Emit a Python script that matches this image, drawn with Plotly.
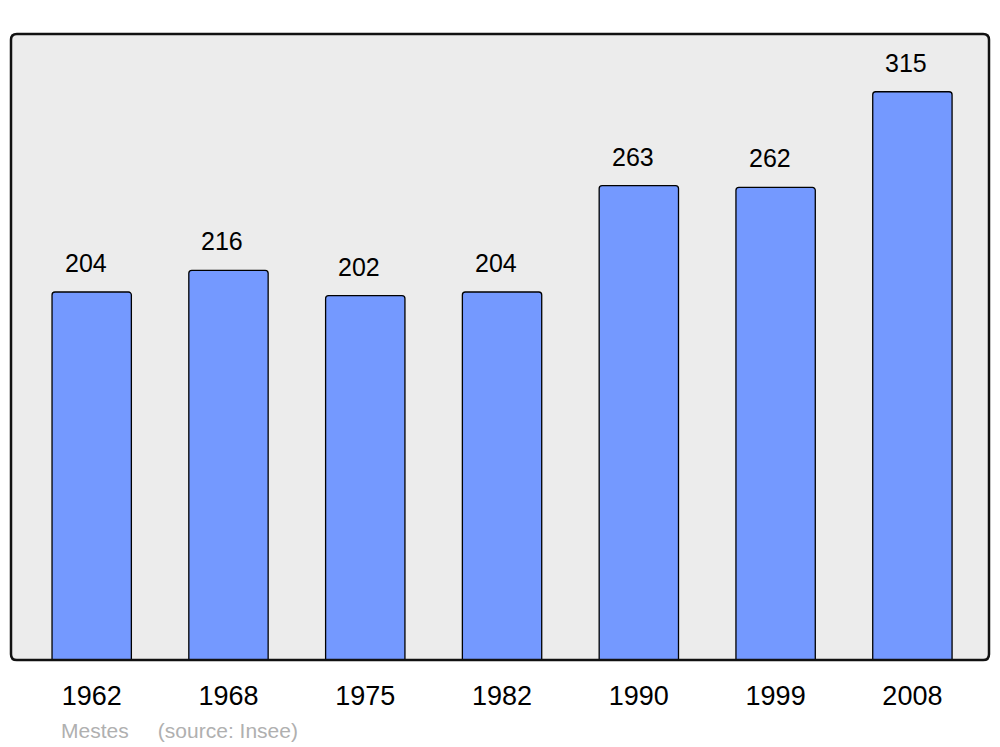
import plotly.graph_objects as go

years = ["1962", "1968", "1975", "1982", "1990", "1999", "2008"]
population = [204, 216, 202, 204, 263, 262, 315]
source_text = "Mestes     (source: Insee)"

W, H = 1000, 747
ML, MR, MT, MB = 11, 11, 34, 87

fig = go.Figure()
fig.add_trace(go.Bar(
    x=years, y=population, width=0.58,
    marker=dict(color="#7499ff", line=dict(color="black", width=1.3), cornerradius=3),
    hoverinfo="x+y",
))

for i, v in enumerate(population):
    fig.add_annotation(x=i, y=v, text=str(v), showarrow=False, yanchor="bottom",
                       yshift=13, xshift=-6,
                       font=dict(family="Liberation Sans, Arial", size=25, color="black"))

fig.add_annotation(xref="paper", yref="paper", x=(59 - ML) / (W - ML - MR), y=(660 - 730) / (H - MT - MB),
                   xanchor="left", yanchor="middle", showarrow=False, text=source_text,
                   font=dict(family="Liberation Sans, Arial", size=21, color="#b0b0b0"))

# rounded plot frame
r = 0.006
ry = r * 978 / 626
path = (f"M {r},0 L {1-r},0 Q 1,0 1,{ry} L 1,{1-ry} Q 1,1 {1-r},1 L {r},1 Q 0,1 0,{1-ry} "
        f"L 0,{ry} Q 0,0 {r},0 Z")
fig.add_shape(type="path", xref="paper", yref="paper", path=path,
              line=dict(color="#111111", width=2.5), fillcolor="rgba(0,0,0,0)", layer="above")

fig.update_layout(
    width=W, height=H,
    margin=dict(l=ML, r=MR, t=MT, b=MB),
    paper_bgcolor="white", plot_bgcolor="#ececec",
    showlegend=False,
    xaxis=dict(type="category", range=[-0.59, 6.56], showgrid=False, zeroline=False,
               showline=False, ticks="", ticklen=0, ticklabelstandoff=17,
               tickfont=dict(family="Liberation Sans, Arial", size=27, color="black")),
    yaxis=dict(range=[0, 347], showgrid=False, zeroline=False, showline=False,
               showticklabels=False, ticks=""),
    font=dict(family="Liberation Sans, Arial"),
)

fig.write_html("out.html", config={"displayModeBar": False},
               post_script="document.body.style.margin='0';document.body.style.overflow='hidden';")
